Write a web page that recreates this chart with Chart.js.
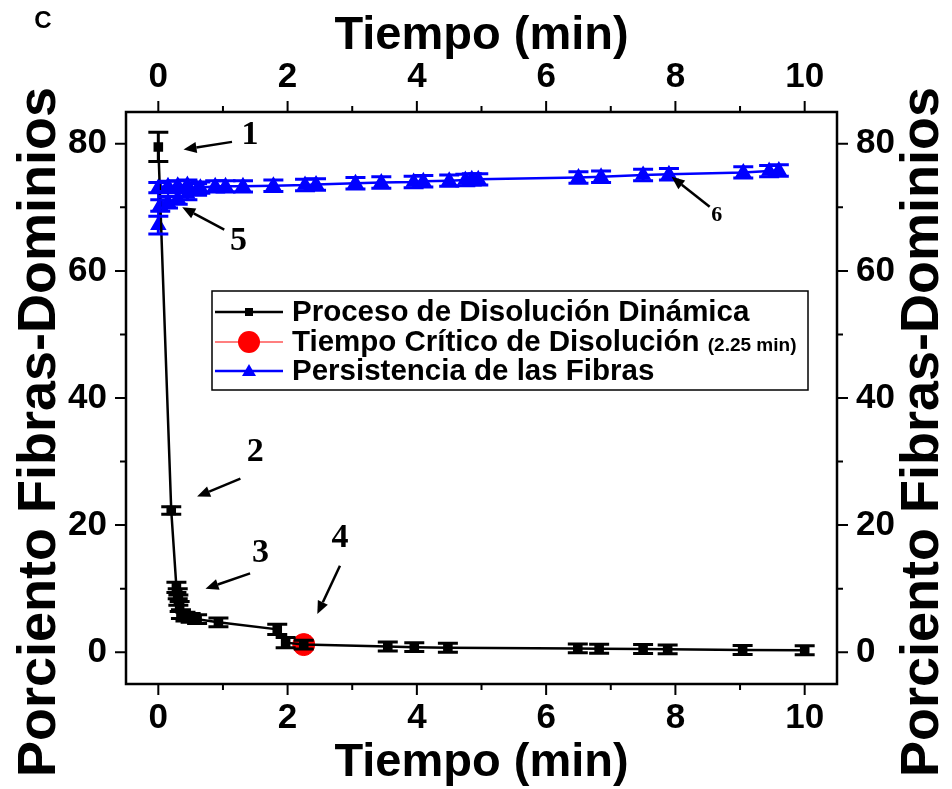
<!DOCTYPE html>
<html>
<head>
<meta charset="utf-8">
<script src="https://cdn.jsdelivr.net/npm/chart.js@4.4.1/dist/chart.umd.min.js"></script>
<style>
html,body{margin:0;padding:0;background:#fff;}
#wrap{position:relative;width:952px;height:789px;}
canvas{display:block;}
</style>
</head>
<body>
<div id="wrap"><canvas id="c" width="952" height="789"></canvas></div>
<script>
// ---------------- DATA ----------------
const xTickValues = [0, 2, 4, 6, 8, 10];
const yTickValues = [0, 20, 40, 60, 80];
const xTitle = 'Tiempo (min)';
const yTitle = 'Porciento Fibras-Dominios';
const panelLabel = 'C';

const dissolTime = [0, 0.2, 0.28, 0.3, 0.31, 0.33, 0.35, 0.42, 0.5, 0.6, 0.93, 1.84, 1.97, 2.25, 3.55, 3.96, 4.48, 6.49, 6.82, 7.5, 7.88, 9.04, 10.0];
const dissolValue = [79.5, 22.3, 10.2, 9.2, 8.2, 7.2, 6.0, 5.6, 5.4, 5.2, 4.7, 3.6, 1.5, 1.2, 0.9, 0.8, 0.7, 0.6, 0.55, 0.5, 0.45, 0.35, 0.3];
const dissolError = [2.3, 0.6, 0.8, 0.8, 0.8, 0.8, 0.7, 0.7, 0.7, 0.7, 0.7, 0.8, 0.8, 0.7, 0.7, 0.7, 0.7, 0.7, 0.7, 0.7, 0.7, 0.7, 0.7];

const criticalTime = [2.25];
const criticalValue = [1.2];

const persistTime = [0.45, 0.3, 0.15, 0, 0, 0.03, 0.15, 0.3, 0.45, 0.6, 0.65, 0.88, 1.04, 1.31, 1.78, 2.27, 2.44, 3.05, 3.45, 3.95, 4.1, 4.5, 4.75, 4.85, 4.95, 6.5, 6.85, 7.5, 7.9, 9.05, 9.45, 9.6];
const persistValue = [73.5, 73.4, 73.3, 73.1, 67.2, 70.3, 70.8, 71.4, 72.1, 72.8, 73.1, 73.3, 73.3, 73.3, 73.4, 73.5, 73.6, 73.8, 73.9, 74.0, 74.1, 74.2, 74.3, 74.4, 74.4, 74.7, 74.8, 75.1, 75.2, 75.5, 75.7, 75.8];
const persistError = [0.8, 0.8, 0.8, 0.8, 1.4, 0.9, 0.9, 0.9, 0.9, 0.9, 0.9, 0.9, 0.9, 0.9, 0.9, 0.9, 0.9, 0.9, 0.9, 0.9, 0.9, 0.9, 0.9, 0.9, 0.9, 0.9, 0.9, 0.9, 0.9, 0.9, 0.9, 0.9];

const legendLabels = ['Proceso de Disolución Dinámica', 'Tiempo Crítico de Disolución', 'Persistencia de las Fibras'];
const legendNote = '(2.25 min)';

// annotation labels, positions in data units
const annLabels = ['1', '2', '3', '4', '5', '6'];
const annText = [[1.42, 81.4], [1.5, 31.4], [1.58, 15.5], [2.81, 18.0], [1.24, 64.6], [8.64, 68.7]];
const annTail = [[1.14, 80.3], [1.27, 27.3], [1.42, 12.4], [2.81, 13.6], [1.02, 66.5], [8.53, 70.1]];
const annHead = [[0.39, 79.1], [0.6, 24.5], [0.73, 10.0], [2.46, 6.0], [0.37, 70.0], [7.94, 74.8]];

// ---------------- BUILD ----------------
const SANS = '"Liberation Sans", Arial, sans-serif';
const SERIF = '"Liberation Serif", "Times New Roman", serif';
const toPts = (xs, ys) => xs.map((x, i) => ({x: x, y: ys[i]}));

const errPlugin = {
  id: 'errbars',
  afterDatasetsDraw(chart) {
    const ctx = chart.ctx, xs = chart.scales.x, ys = chart.scales.y;
    const sets = [[dissolTime, dissolValue, dissolError, '#000'], [persistTime, persistValue, persistError, '#0000ff']];
    ctx.save();
    sets.forEach(([tx, vy, ve, col]) => {
      ctx.strokeStyle = col; ctx.lineWidth = 3;
      tx.forEach((t, i) => {
        const px = xs.getPixelForValue(t);
        const pt = ys.getPixelForValue(vy[i] + ve[i]);
        const pb = ys.getPixelForValue(vy[i] - ve[i]);
        ctx.beginPath();
        ctx.moveTo(px, pt); ctx.lineTo(px, pb);
        ctx.moveTo(px - 10, pt); ctx.lineTo(px + 10, pt);
        ctx.moveTo(px - 10, pb); ctx.lineTo(px + 10, pb);
        ctx.stroke();
      });
    });
    ctx.restore();
  }
};

const framePlugin = {
  id: 'frame',
  afterDraw(chart) {
    const ctx = chart.ctx, a = chart.chartArea;
    const xs = chart.scales.x, ys = chart.scales.y;
    ctx.save();
    ctx.strokeStyle = '#000'; ctx.lineWidth = 2.5;
    ctx.strokeRect(a.left, a.top, a.right - a.left, a.bottom - a.top);
    ctx.lineWidth = 2;
    for (let v = 0; v <= 10; v++) {
      const len = v % 2 === 0 ? 11 : 6;
      const px = xs.getPixelForValue(v);
      ctx.beginPath();
      ctx.moveTo(px, a.bottom); ctx.lineTo(px, a.bottom + len);
      ctx.moveTo(px, a.top); ctx.lineTo(px, a.top - len);
      ctx.stroke();
    }
    for (let v = 0; v <= 80; v += 10) {
      const len = v % 20 === 0 ? 11 : 6;
      const py = ys.getPixelForValue(v);
      ctx.beginPath();
      ctx.moveTo(a.left, py); ctx.lineTo(a.left - len, py);
      ctx.moveTo(a.right, py); ctx.lineTo(a.right + len, py);
      ctx.stroke();
    }
    // titles
    ctx.fillStyle = '#000';
    ctx.textAlign = 'center'; ctx.textBaseline = 'middle';
    ctx.font = 'bold 47px ' + SANS;
    const cx = (a.left + a.right) / 2;
    ctx.fillText(xTitle, cx, 36);
    ctx.fillText(xTitle, cx, 763);
    ctx.font = 'bold 54px ' + SANS;
    [40, 923].forEach(tx => {
      ctx.save();
      ctx.translate(tx, 432);
      ctx.rotate(-Math.PI / 2);
      ctx.fillText(yTitle, 0, 0);
      ctx.restore();
    });
    ctx.font = 'bold 24px ' + SANS;
    ctx.fillText(panelLabel, 43, 21);

    // annotations
    ctx.strokeStyle = '#000'; ctx.fillStyle = '#000'; ctx.lineWidth = 2.5;
    annLabels.forEach((lab, i) => {
      const tx = xs.getPixelForValue(annTail[i][0]), ty = ys.getPixelForValue(annTail[i][1]);
      const hx = xs.getPixelForValue(annHead[i][0]), hy = ys.getPixelForValue(annHead[i][1]);
      const ang = Math.atan2(hy - ty, hx - tx);
      const hl = 13, hw = 5.5;
      const bx = hx - hl * Math.cos(ang), by = hy - hl * Math.sin(ang);
      ctx.beginPath(); ctx.moveTo(tx, ty); ctx.lineTo(bx, by); ctx.stroke();
      ctx.beginPath();
      ctx.moveTo(hx, hy);
      ctx.lineTo(bx + hw * Math.sin(ang), by - hw * Math.cos(ang));
      ctx.lineTo(bx - hw * Math.sin(ang), by + hw * Math.cos(ang));
      ctx.closePath(); ctx.fill();
      ctx.font = (lab === '6' ? 'bold 22px ' : 'bold 34px ') + SERIF;
      ctx.fillText(lab, xs.getPixelForValue(annText[i][0]), ys.getPixelForValue(annText[i][1]));
    });

    // legend
    const lx0 = 212, ly0 = 291, lx1 = 808, ly1 = 390;
    ctx.lineWidth = 1.5; ctx.strokeStyle = '#000';
    ctx.strokeRect(lx0, ly0, lx1 - lx0, ly1 - ly0);
    const rows = [312, 342, 371];
    const cols = ['#000', '#ff0000', '#0000ff'];
    ctx.textAlign = 'left';
    rows.forEach((ry, i) => {
      ctx.strokeStyle = cols[i]; ctx.fillStyle = cols[i];
      ctx.lineWidth = i === 1 ? 1.2 : 2.5;
      ctx.beginPath(); ctx.moveTo(215, ry); ctx.lineTo(283, ry); ctx.stroke();
      if (i === 0) ctx.fillRect(245, ry - 4, 8, 8);
      if (i === 1) { ctx.beginPath(); ctx.arc(249, ry, 11, 0, 2 * Math.PI); ctx.fill(); }
      if (i === 2) { ctx.beginPath(); ctx.moveTo(249, ry - 7); ctx.lineTo(256, ry + 5); ctx.lineTo(242, ry + 5); ctx.closePath(); ctx.fill(); }
      ctx.fillStyle = '#000';
      ctx.font = 'bold 29.5px ' + SANS;
      ctx.fillText(legendLabels[i], 292, ry + 1);
      if (i === 1) {
        const w = ctx.measureText(legendLabels[i] + ' ').width;
        ctx.font = 'bold 19px ' + SANS;
        ctx.fillText(legendNote, 292 + w, ry + 4);
      }
    });
    ctx.restore();
  }
};

const tickFont = {family: SANS, size: 35, weight: 'bold', lineHeight: 1};
const hideGrid = {display: true, drawOnChartArea: false, drawTicks: true, tickLength: 11, color: 'rgba(0,0,0,0)'};
function xAxis(pos, h, pad) {
  return {
    type: 'linear', position: pos, min: -0.5, max: 10.5,
    afterBuildTicks: s => { s.ticks = xTickValues.map(v => ({value: v})); },
    afterFit: s => { s.height = h; },
    grid: hideGrid, border: {display: false},
    ticks: {font: tickFont, color: '#000', padding: pad, maxRotation: 0, autoSkip: false}
  };
}
function yAxis(pos, w, pad) {
  return {
    type: 'linear', position: pos, min: -5, max: 85,
    afterBuildTicks: s => { s.ticks = yTickValues.map(v => ({value: v})); },
    afterFit: s => { s.width = w; },
    grid: hideGrid, border: {display: false},
    ticks: {font: tickFont, color: '#000', padding: pad, autoSkip: false}
  };
}

new Chart(document.getElementById('c'), {
  type: 'line',
  data: {
    datasets: [
      {label: legendLabels[0], data: toPts(dissolTime, dissolValue), borderColor: '#000', backgroundColor: '#000', borderWidth: 2.5, pointStyle: 'rect', pointRadius: 5, tension: 0, xAxisID: 'x', yAxisID: 'y'},
      {label: legendLabels[2], data: toPts(persistTime, persistValue), borderColor: '#0000ff', backgroundColor: '#0000ff', borderWidth: 2.5, pointStyle: 'triangle', pointRadius: 7, tension: 0, xAxisID: 'x', yAxisID: 'y'},
      {label: legendLabels[1], data: toPts(criticalTime, criticalValue), borderColor: '#ff0000', backgroundColor: '#ff0000', borderWidth: 1, pointStyle: 'circle', pointRadius: 11, xAxisID: 'x', yAxisID: 'y'}
    ]
  },
  options: {
    responsive: false, animation: false,
    layout: {padding: 0},
    plugins: {legend: {display: false}, tooltip: {enabled: false}},
    scales: {
      x: xAxis('bottom', 105, 6),
      x2: xAxis('top', 112, 6),
      y: yAxis('left', 126, 8),
      y2: yAxis('right', 115, 8)
    }
  },
  plugins: [errPlugin, framePlugin]
});
</script>
</body>
</html>
